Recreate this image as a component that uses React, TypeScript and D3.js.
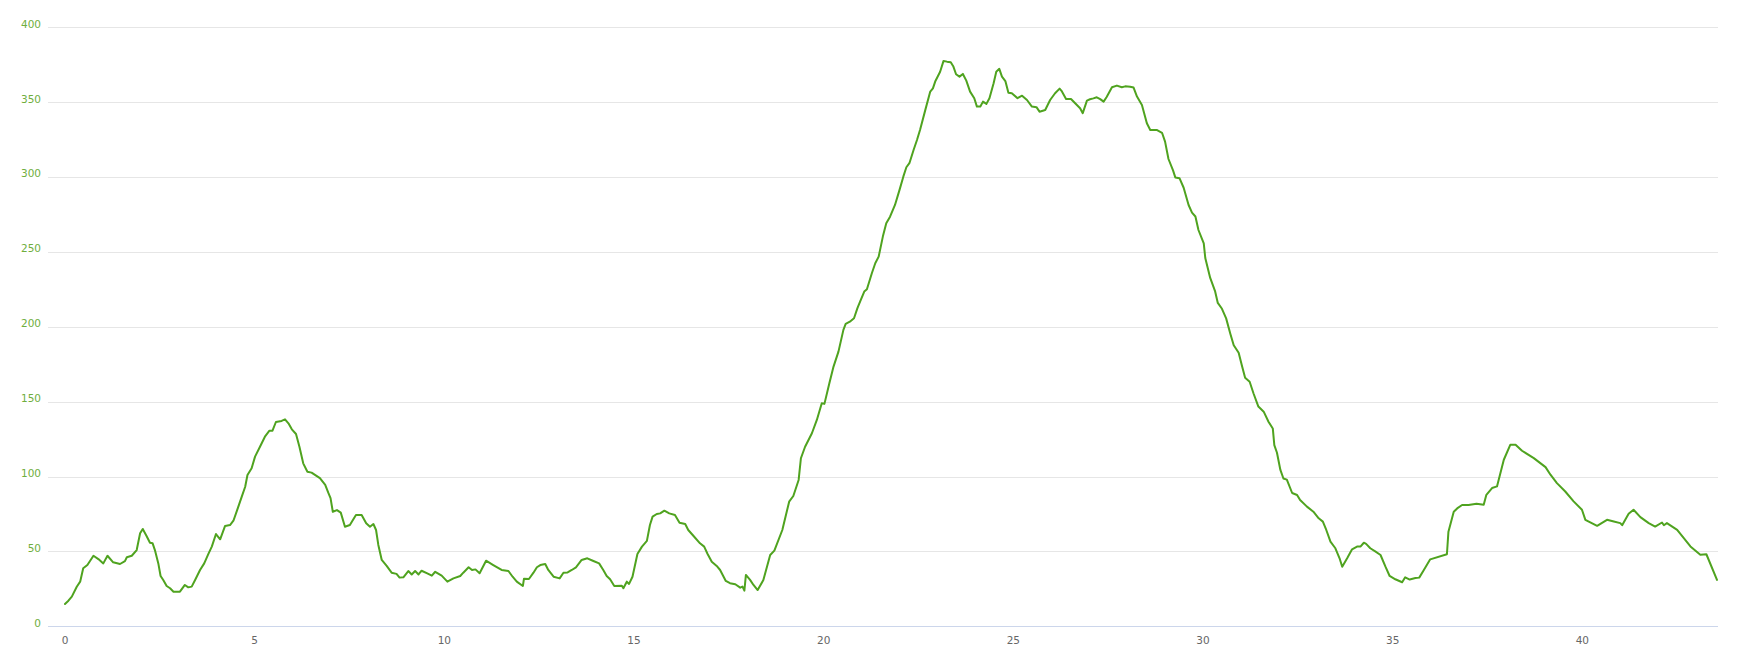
import React from "react";
import * as d3 from "d3";

const distance: number[] = [
  0, 0.09, 0.18, 0.31, 0.4, 0.48, 0.59, 0.75, 0.88, 1.01, 1.12, 1.27, 1.45, 1.58, 1.63, 1.76, 1.89, 1.98, 2.05, 2.15,
  2.24, 2.31, 2.37, 2.46, 2.52, 2.59, 2.68, 2.77, 2.86, 3.03, 3.16, 3.25, 3.34, 3.43, 3.56, 3.67, 3.78, 3.87, 3.98, 4.09,
  4.22, 4.35, 4.44, 4.54, 4.66, 4.75, 4.81, 4.92, 5.01, 5.14, 5.27, 5.39, 5.47, 5.56, 5.71, 5.8, 5.89, 5.98, 6.09, 6.18,
  6.28, 6.39, 6.5, 6.63, 6.72, 6.86, 6.94, 7.0, 7.06, 7.17, 7.27, 7.38, 7.51, 7.67, 7.82, 7.94, 8.04, 8.13, 8.2, 8.26,
  8.35, 8.48, 8.61, 8.74, 8.82, 8.92, 9.05, 9.14, 9.23, 9.32, 9.4, 9.55, 9.67, 9.76, 9.93, 10.08, 10.24, 10.42, 10.5, 10.64,
  10.73, 10.82, 10.93, 11.1, 11.29, 11.51, 11.69, 11.8, 11.91, 12.07, 12.1, 12.23, 12.35, 12.44, 12.53, 12.66, 12.74, 12.88, 13.04, 13.14,
  13.25, 13.36, 13.47, 13.62, 13.77, 13.93, 14.08, 14.19, 14.28, 14.37, 14.48, 14.68, 14.72, 14.81, 14.87, 14.96, 15.09, 15.21, 15.34, 15.42,
  15.49, 15.6, 15.69, 15.8, 15.93, 16.08, 16.2, 16.35, 16.43, 16.57, 16.74, 16.85, 16.94, 17.05, 17.18, 17.27, 17.42, 17.53, 17.67, 17.8,
  17.86, 17.91, 17.95, 18.06, 18.15, 18.26, 18.41, 18.59, 18.7, 18.91, 19.09, 19.2, 19.34, 19.4, 19.51, 19.69, 19.82, 19.95, 20.02, 20.15,
  20.26, 20.39, 20.52, 20.58, 20.69, 20.8, 20.89, 20.96, 21.07, 21.14, 21.27, 21.36, 21.45, 21.56, 21.65, 21.75, 21.88, 22.0, 22.1, 22.18,
  22.26, 22.37, 22.46, 22.54, 22.68, 22.81, 22.88, 22.94, 23.07, 23.16, 23.25, 23.35, 23.42, 23.49, 23.58, 23.67, 23.76, 23.86, 23.97, 24.04,
  24.13, 24.2, 24.29, 24.37, 24.48, 24.55, 24.63, 24.7, 24.79, 24.87, 24.96, 25.11, 25.23, 25.36, 25.49, 25.61, 25.69, 25.84, 25.97, 26.1,
  26.22, 26.27, 26.39, 26.52, 26.63, 26.76, 26.83, 26.94, 27.02, 27.11, 27.2, 27.29, 27.38, 27.46, 27.6, 27.73, 27.86, 27.95, 28.08, 28.17,
  28.26, 28.39, 28.52, 28.61, 28.79, 28.92, 29.0, 29.09, 29.21, 29.27, 29.38, 29.49, 29.62, 29.71, 29.8, 29.88, 30.02, 30.06, 30.19, 30.32,
  30.39, 30.5, 30.61, 30.72, 30.81, 30.94, 31.03, 31.11, 31.23, 31.33, 31.46, 31.6, 31.73, 31.84, 31.88, 31.95, 32.04, 32.12, 32.21, 32.35,
  32.48, 32.56, 32.74, 32.91, 33.05, 33.16, 33.25, 33.36, 33.49, 33.6, 33.67, 33.8, 33.93, 34.06, 34.15, 34.24, 34.3, 34.41, 34.55, 34.68,
  34.81, 34.92, 35.07, 35.25, 35.33, 35.45, 35.6, 35.7, 35.81, 35.99, 36.43, 36.47, 36.61, 36.7, 36.83, 37.0, 37.21, 37.4, 37.47, 37.62,
  37.75, 37.93, 38.1, 38.24, 38.41, 38.72, 39.03, 39.16, 39.33, 39.55, 39.77, 39.99, 40.08, 40.39, 40.65, 40.83, 41.0, 41.05, 41.22, 41.35,
  41.53, 41.75, 41.92, 42.1, 42.15, 42.23, 42.5, 42.85, 43.11, 43.27, 43.55,
];

const elevation: number[] = [
  14.9, 17.1, 19.8, 26.4, 29.8, 38.7, 40.9, 47.1, 44.9, 42, 47.1, 42.7, 41.6, 43.5, 46.1, 47.1, 50.9, 62.1, 65, 60.3,
  55.8, 55.4, 50.9, 42, 33.6, 30.9, 26.9, 25.4, 23.1, 23.1, 27.6, 26, 26.5, 30.9, 37.6, 42, 48.3, 53.2, 61.6, 58.1,
  67, 67.6, 70.5, 77.7, 86.6, 93.2, 101, 105.5, 113.3, 119.9, 126.6, 130.6, 130.6, 136.4, 137.1, 138.2, 135.5, 131.5, 128.4, 119.9,
  108.8, 103.2, 102.6, 100.4, 98.9, 94.4, 89.2, 85.6, 76.5, 77.6, 75.9, 66.5, 67.6, 74.3, 74.3, 68.8, 66.5, 68.3, 64.3, 54.3,
  44.3, 40.3, 35.8, 35, 32.5, 32.7, 36.9, 34.6, 36.9, 34.6, 37.1, 35.3, 33.8, 36.4, 33.8, 29.8, 32, 33.6, 35.8, 39.4,
  37.6, 38, 35.4, 43.8, 40.9, 37.6, 36.9, 33.1, 29.8, 26.9, 31.8, 31.6, 35.8, 39.4, 40.9, 41.6, 37.6, 33.1, 32, 35.8,
  36, 37.6, 39.4, 44.3, 45.4, 43.6, 42, 37.6, 33.6, 31.4, 26.9, 27.1, 25.4, 29.8, 28.3, 33.1, 48.3, 53.2, 57, 67.6,
  73.2, 75, 75.4, 77.2, 75.4, 74.3, 69.2, 68.3, 64.3, 60.3, 55.4, 53.2, 48.3, 43.1, 40.3, 37.6, 30.3, 28.8, 28.1, 25.8,
  26.5, 23.8, 34.3, 31, 27.6, 24.2, 30.9, 47.6, 50.5, 64.3, 83.2, 87, 97.7, 112.2, 119.9, 128.9, 137.8, 148.9, 148.5, 162.3,
  173.4, 183.4, 197.9, 201.9, 203.4, 205.7, 212.4, 216.8, 223.5, 225, 235.7, 242.4, 246.8, 260.2, 269.1, 273.5, 281.3, 291.4, 300.2, 306.5,
  309.2, 318, 324.7, 331.4, 344.8, 357, 359.2, 363.7, 370.3, 377.5, 377, 376.6, 373.7, 368.6, 367, 368.8, 364.3, 357, 352.6, 347,
  347, 350.3, 348.8, 352.6, 362.6, 370.3, 372.2, 367, 364, 356.3, 355.9, 352.6, 354.3, 351.4, 347, 346.6, 343.6, 344.7, 351.4, 355.9,
  359, 357.5, 352.1, 352.1, 349.2, 345.9, 342.6, 351, 351.9, 352.5, 353.2, 352, 350.3, 353.4, 359.9, 361, 359.9, 360.5, 360.3, 359.7,
  353.7, 348.1, 335.9, 331.4, 331.3, 329.5, 323.6, 312, 304.4, 299.7, 299.2, 292.8, 281.3, 276.2, 273.6, 264.6, 255.6, 245.9, 232.6, 223.6,
  215.9, 212, 205.6, 195.4, 187.7, 182.6, 173.6, 165.9, 163.3, 155.6, 146.7, 143.3, 136.4, 132.1, 121, 115.9, 104.4, 98.7, 97.9, 89,
  87.7, 84.3, 79.9, 76.5, 72.1, 69.9, 64.3, 56.5, 52.1, 45.4, 39.8, 45.4, 51.4, 53.2, 53.2, 55.8, 55, 52.1, 49.8, 47.6,
  39.8, 33.6, 31.4, 29.4, 32.7, 31.2, 32.2, 32.5, 37.1, 44.7, 48.1, 63.2, 76.5, 78.7, 81, 81, 81.8, 81.1, 87.8, 92.3,
  93.4, 111.2, 121.2, 121.2, 117.2, 112.3, 106.3, 101.2, 95.6, 90, 83.4, 77.8, 71.1, 67.1, 71.1, 70, 68.9, 67.5, 75.1, 77.8,
  72.9, 68.9, 66.6, 69.3, 67.5, 68.9, 64.4, 53.3, 47.7, 48.1, 31,
];

const yTicks: number[] = [0, 50, 100, 150, 200, 250, 300, 350, 400];
const xTicks: number[] = [0, 5, 10, 15, 20, 25, 30, 35, 40];

const W = 1747;
const H = 671;
const FONT = "'DejaVu Sans', Verdana, sans-serif";

export default function App() {
  const x = d3.scaleLinear().domain([0, 43.55]).range([65, 1717]);
  const y = d3.scaleLinear().domain([0, 400]).range([626.3, 27.2]);
  const plotLeft = 48;
  const plotRight = 1718;

  const points: [number, number][] = distance.map((d, i) => [d, elevation[i]]);
  const line = d3
    .line<[number, number]>()
    .x((p) => x(p[0]))
    .y((p) => y(p[1]))
    .curve(d3.curveLinear);

  const crisp = (v: number) => Math.round(v) + 0.5;

  return (
    <svg
      width={W}
      height={H}
      style={{ position: "absolute", left: 0, top: 0, background: "#fff" }}
      fontFamily={FONT}
    >
      {yTicks.map((t) =>
        t === 0 ? null : (
          <line
            key={"g" + t}
            x1={plotLeft}
            x2={plotRight}
            y1={crisp(y(t))}
            y2={crisp(y(t))}
            stroke="#e6e6e6"
            strokeWidth={1}
          />
        )
      )}
      <line
        x1={plotLeft}
        x2={plotRight}
        y1={crisp(y(0))}
        y2={crisp(y(0))}
        stroke="#ccd6eb"
        strokeWidth={1}
      />
      {yTicks.map((t) => (
        <text
          key={"yl" + t}
          x={41}
          y={y(t) + 0.5}
          textAnchor="end"
          fontSize={10.5}
          fill="#6fae3d"
        >
          {t}
        </text>
      ))}
      {xTicks.map((t) => (
        <text
          key={"xl" + t}
          x={x(t)}
          y={644}
          textAnchor="middle"
          fontSize={10.5}
          fill="#666666"
        >
          {t}
        </text>
      ))}
      <path
        d={line(points) || ""}
        fill="none"
        stroke="#4fa31f"
        strokeWidth={2}
        strokeLinejoin="round"
        strokeLinecap="round"
      />
    </svg>
  );
}
